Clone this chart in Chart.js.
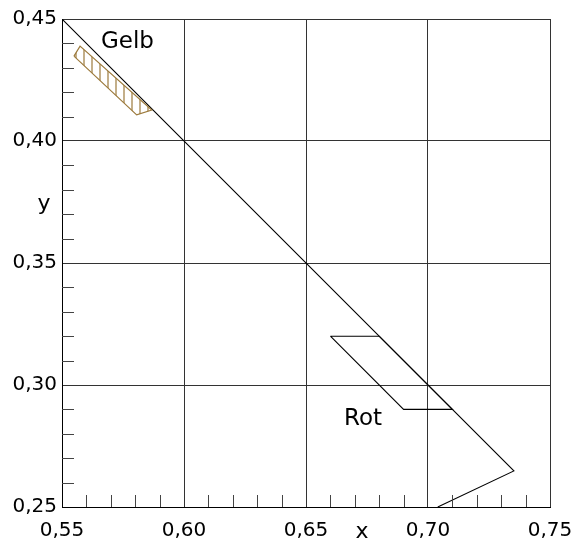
<!DOCTYPE html>
<html>
<head>
<meta charset="utf-8">
<script src="https://cdn.jsdelivr.net/npm/chart.js@4"></script>
<style>
  html, body { margin: 0; padding: 0; background: #fff; }
  #wrap { width: 571px; height: 543px; }
</style>
</head>
<body>
<div id="wrap"><canvas id="grafik" width="571" height="543"></canvas></div>
<script>
// axis ranges
const xMin = 0.55, xMax = 0.75;
const yMin = 0.25, yMax = 0.45;
const minorStep = 0.01;

// Diagonale (Grenzlinie)
const diagX = [0.55, 0.7352, 0.704];
const diagY = [0.45, 0.2648, 0.25];

// Bereich Rot
const rotX = [0.66, 0.68, 0.71, 0.69, 0.66];
const rotY = [0.32, 0.32, 0.29, 0.29, 0.32];

// Bereich Gelb (schraffiert)
const gelbX = [0.5549, 0.5574, 0.5868, 0.5806, 0.5549];
const gelbY = [0.4348, 0.4389, 0.4127, 0.4107, 0.4348];

// Beschriftungen im Diagramm
const labelText = ["Gelb", "Rot"];
const labelX = [0.5768, 0.6734];
const labelY = [0.4406, 0.2860];

const FONT = "'DejaVu Sans', sans-serif";
const gelbFarbe = "#9c7a3c";

function pts(xs, ys) {
  return xs.map((x, i) => ({ x: x, y: ys[i] }));
}

function istMajor(v) {
  return Math.round(v * 100) % 5 === 0;
}

function fmt(v) {
  return v.toFixed(2).replace(".", ",");
}

// Schraffur-Muster
function schraffur() {
  const c = document.createElement("canvas");
  c.width = 8; c.height = 8;
  const g = c.getContext("2d");
  g.strokeStyle = gelbFarbe;
  g.lineWidth = 1.2;
  g.beginPath();
  g.moveTo(4, 0);
  g.lineTo(4, 8);
  g.stroke();
  return g.createPattern(c, "repeat");
}

// kleine Striche nach innen + Texte
const extras = {
  id: "extras",
  afterDatasetsDraw(chart) {
    const ctx = chart.ctx;
    const xs = chart.scales.x, ys = chart.scales.y;
    const area = chart.chartArea;
    ctx.save();
    ctx.strokeStyle = "#444";
    ctx.lineWidth = 1;
    ctx.beginPath();
    xs.ticks.forEach(t => {
      if (istMajor(t.value)) return;
      const px = Math.round(xs.getPixelForValue(t.value)) + 0.5;
      ctx.moveTo(px, area.bottom);
      ctx.lineTo(px, area.bottom - 12);
    });
    ys.ticks.forEach(t => {
      if (istMajor(t.value)) return;
      const py = Math.round(ys.getPixelForValue(t.value)) + 0.5;
      ctx.moveTo(area.left, py);
      ctx.lineTo(area.left + 12, py);
    });
    ctx.stroke();

    ctx.fillStyle = "#000";
    ctx.font = "23px " + FONT;
    ctx.textAlign = "center";
    ctx.textBaseline = "middle";
    labelText.forEach((s, i) => {
      ctx.fillText(s, xs.getPixelForValue(labelX[i]), ys.getPixelForValue(labelY[i]));
    });

    // Achsentitel
    ctx.font = "22px " + FONT;
    ctx.textBaseline = "alphabetic";
    ctx.fillText("x", xs.getPixelForValue(0.673), area.bottom + 31);
    ctx.fillText("y", area.left - 18, ys.getPixelForValue(0.3717));
    ctx.restore();
  }
};

const ctx = document.getElementById("grafik").getContext("2d");
new Chart(ctx, {
  type: "scatter",
  data: {
    datasets: [
      {
        data: pts(gelbX, gelbY),
        showLine: true,
        borderColor: gelbFarbe,
        borderWidth: 1.2,
        backgroundColor: schraffur(),
        fill: "shape",
        pointRadius: 0,
        tension: 0
      },
      {
        data: pts(diagX, diagY),
        showLine: true,
        borderColor: "#000",
        borderWidth: 1.1,
        pointRadius: 0,
        fill: false
      },
      {
        data: pts(rotX, rotY),
        showLine: true,
        borderColor: "#000",
        borderWidth: 1.1,
        pointRadius: 0,
        fill: false
      }
    ]
  },
  options: {
    responsive: false,
    animation: false,
    layout: { padding: { top: 19, right: 21, left: 0, bottom: 0 } },
    plugins: { legend: { display: false }, tooltip: { enabled: false } },
    scales: {
      x: {
        type: "linear",
        min: xMin, max: xMax,
        afterFit(s) { s.height = 36; s.paddingLeft = 0; s.paddingRight = 0; },
        border: { color: "#000", width: 1 },
        grid: {
          drawTicks: false,
          color: c => istMajor(c.tick.value) ? "#333" : "rgba(0,0,0,0)",
          lineWidth: 1
        },
        ticks: {
          stepSize: minorStep,
          autoSkip: false,
          maxRotation: 0,
          padding: 12,
          color: "#000",
          font: { family: FONT, size: 20 },
          callback: v => istMajor(v) ? fmt(v) : ""
        }
      },
      y: {
        type: "linear",
        min: yMin, max: yMax,
        afterFit(s) { s.width = 62; s.paddingTop = 0; s.paddingBottom = 0; },
        border: { color: "#000", width: 1 },
        grid: {
          drawTicks: false,
          color: c => istMajor(c.tick.value) ? "#333" : "rgba(0,0,0,0)",
          lineWidth: 1
        },
        ticks: {
          stepSize: minorStep,
          autoSkip: false,
          padding: 5,
          color: "#000",
          font: { family: FONT, size: 20 },
          callback: v => istMajor(v) ? fmt(v) : ""
        }
      }
    }
  },
  plugins: [extras]
});
</script>
</body>
</html>
